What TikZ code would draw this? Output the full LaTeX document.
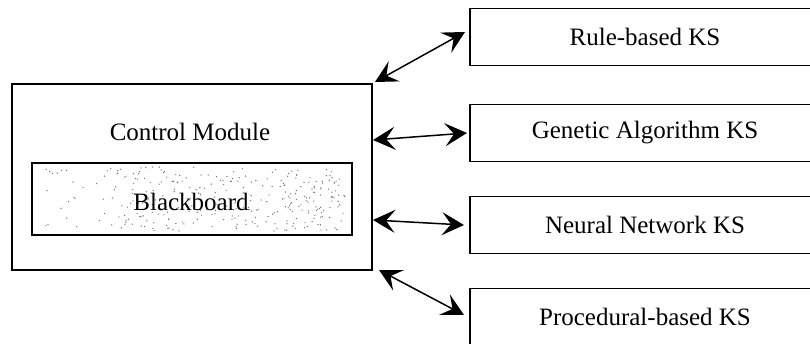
\documentclass[tikz,border=0pt]{standalone}
\usepackage{fontspec}
\setmainfont{Liberation Serif}
\usetikzlibrary{arrows.meta}
\begin{document}
\begin{tikzpicture}[x=1pt,y=-1pt,
  txt/.style={font=\fontsize{25}{29}\selectfont},
  box/.style={draw,line width=1.3pt,rectangle,inner sep=0pt,txt},
  ksbox/.style={box,minimum width=350pt,minimum height=57pt},
  tip/.style={Stealth[length=22pt,width=23pt,inset=9pt]},
  link/.style={line width=1.5pt,{Stealth[length=22pt,width=23pt,inset=9pt]}-{Stealth[length=22pt,width=23pt,inset=9pt]}},
  speck/.style={fill=black!55}]
\useasboundingbox (0,0) rectangle (810,344);
\clip (0,0) rectangle (810,344);
\fill[white] (0,0) rectangle (810,344);

% grainy fill of the blackboard
\pgfmathsetseed{4711}
\foreach \i in {1,...,120}{
  \pgfmathsetmacro\px{45+300*rnd}
  \pgfmathsetmacro\py{167+64*rnd}
  \fill[speck] (\px,\py) circle (0.7);
}
\foreach \i in {1,...,200}{
  \pgfmathsetmacro\px{110+235*rnd}
  \pgfmathsetmacro\py{167+64*rnd}
  \fill[speck] (\px,\py) circle (0.7);
}

% control module with blackboard inside
\node[box,minimum width=360pt,minimum height=186pt] (cm) at (192,177) {};
\node[txt] (cmlabel) at (190,132) {Control Module};
\node[box,minimum width=320pt,minimum height=72pt] (bb) at (192,199) {};
\node[txt] (bblabel) at (191,202) {Blackboard};

% knowledge sources
\node[ksbox] (rb) at (645,37)  {Rule-based KS};
\node[ksbox] (ga) at (645,133) {Genetic Algorithm KS};
\node[ksbox] (nn) at (645,225) {Neural Network KS};
\node[ksbox] (pb) at (645,317) {Procedural-based KS};

% connector end points
\coordinate (rbL) at (375,82);  \coordinate (rbR) at (465,32);
\coordinate (gaL) at (373,140); \coordinate (gaR) at (467,133);
\coordinate (nnL) at (373,220); \coordinate (nnR) at (464,225);
\coordinate (pbL) at (379,270); \coordinate (pbR) at (464,315);

\draw[link] (rbL) -- (rbR);
\draw[link] (gaL) -- (gaR);
\draw[link] (nnL) -- (nnR);
\draw[link] (pbL) -- (pbR);
\end{tikzpicture}
\end{document}
